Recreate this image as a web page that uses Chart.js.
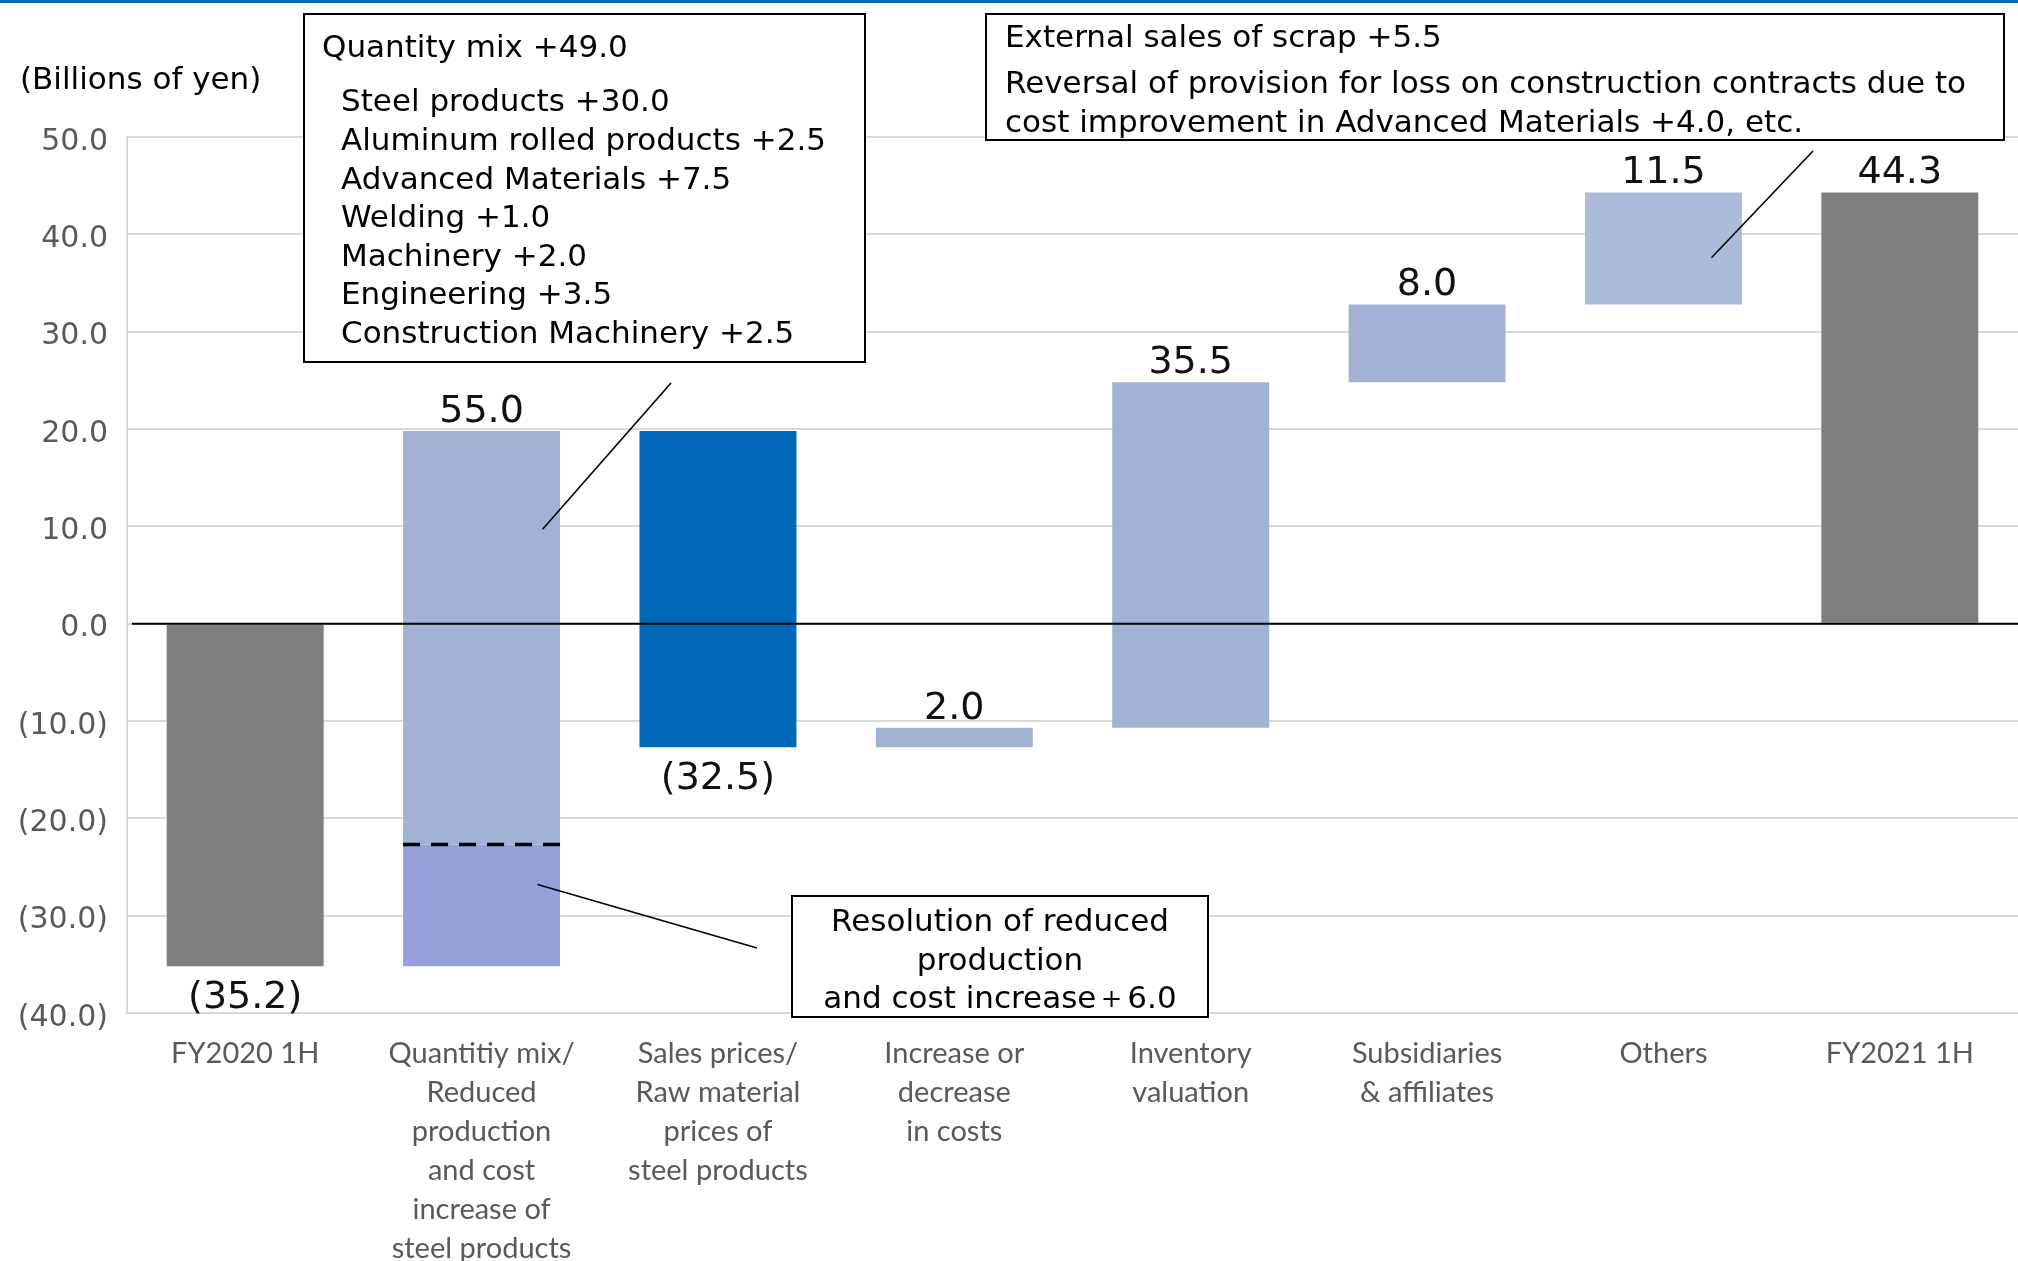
<!DOCTYPE html>
<html>
<head>
<meta charset="utf-8">
<script src="https://cdn.jsdelivr.net/npm/chart.js@4.4.1/dist/chart.umd.min.js"></script>
<style>
  html, body { margin: 0; padding: 0; background: #fff; overflow: hidden; }
  #profit-chart { position: absolute; left: 0; top: 0; }
  #topline { position: absolute; left: 0; top: 0; width: 2018px; height: 3px; background: #0068B7; }
</style>
</head>
<body>
<canvas id="profit-chart" width="2018" height="1261"></canvas>
<div id="topline"></div>
<script>
const categories = [
    ['FY2020 1H'],
    ['Quantitiy mix/', 'Reduced', 'production', 'and cost', 'increase of', 'steel products'],
    ['Sales prices/', 'Raw material', 'prices of', 'steel products'],
    ['Increase or', 'decrease', 'in costs'],
    ['Inventory', 'valuation'],
    ['Subsidiaries', '& affiliates'],
    ['Others'],
    ['FY2021 1H']
];
// waterfall bars: start and end of each floating bar
const barStart = [0, -22.7, 19.8, -12.7, -10.7, 24.8, 32.8, 0];
const barEnd = [-35.2, 19.8, -12.7, -10.7, 24.8, 32.8, 44.3, 44.3];
// lower part of the quantity bar (resolution of reduced production)
const resolutionStart = [null, -35.2, null, null, null, null, null, null];
const resolutionEnd = [null, -22.7, null, null, null, null, null, null];
const changes = [-35.2, 55.0, -32.5, 2.0, 35.5, 8.0, 11.5, 44.3];
const barColors = ['#7F7F7F', '#A2B2D4', '#0068B7', '#A2B2D4', '#A2B2D4', '#A2B1D4', '#ADBBDB', '#7F7F7F'];
const yTicks = { min: -40, max: 50, step: 10 };

const boxQuantity = ['Quantity mix +49.0', 'Steel products +30.0', 'Aluminum rolled products +2.5',
    'Advanced Materials +7.5', 'Welding +1.0', 'Machinery +2.0', 'Engineering +3.5', 'Construction Machinery +2.5'];
const boxOthers = ['External sales of scrap +5.5',
    'Reversal of provision for loss on construction contracts due to',
    'cost improvement in Advanced Materials +4.0, etc.'];
const boxResolution = ['Resolution of reduced', 'production', 'and cost increase\uFF0B6.0'];

function fmt(v) {
    return v < 0 ? '(' + Math.abs(v).toFixed(1) + ')' : v.toFixed(1);
}

const textFont = '31px "DejaVu Sans"';

const annotations = {
    id: 'annotations',
    afterDatasetsDraw(chart) {
        const ctx = chart.ctx;
        const x = chart.scales.x, y = chart.scales.y;
        const area = chart.chartArea;
        const meta = chart.getDatasetMeta(0);
        ctx.save();

        // zero line over the bars
        const y0 = y.getPixelForValue(0);
        ctx.strokeStyle = '#000';
        ctx.lineWidth = 2;
        ctx.beginPath();
        ctx.moveTo(area.left + 5, y0);
        ctx.lineTo(area.right, y0);
        ctx.stroke();

        // dashed split on quantity bar
        const qb = meta.data[1];
        const yd = y.getPixelForValue(resolutionEnd[1]);
        ctx.setLineDash([17, 11]);
        ctx.lineWidth = 3.5;
        ctx.beginPath();
        ctx.moveTo(qb.x - qb.width / 2, yd);
        ctx.lineTo(qb.x + qb.width / 2, yd);
        ctx.stroke();
        ctx.setLineDash([]);

        // value labels
        ctx.fillStyle = '#111';
        ctx.font = '38px "DejaVu Sans"';
        ctx.textAlign = 'center';
        ctx.textBaseline = 'alphabetic';
        meta.data.forEach((bar, i) => {
            let top = Math.min(bar.y, bar.base), bottom = Math.max(bar.y, bar.base);
            if (resolutionStart[i] !== null) {
                bottom = Math.max(bottom, y.getPixelForValue(resolutionStart[i]));
            }
            if (changes[i] >= 0) {
                ctx.fillText(fmt(changes[i]), bar.x, top - 9);
            } else {
                ctx.fillText(fmt(changes[i]), bar.x, bottom + 42);
            }
        });

        // leader lines
        ctx.strokeStyle = '#000';
        ctx.lineWidth = 1.6;
        const lines = [
            [x.getPixelForValue(1) + 61, y.getPixelForValue(9.7), 671, 383],
            [x.getPixelForValue(1) + 56, y.getPixelForValue(-26.8), 757, 948],
            [x.getPixelForValue(6) + 48, y.getPixelForValue(37.6), 1813, 151]
        ];
        lines.forEach(l => {
            ctx.beginPath();
            ctx.moveTo(l[0], l[1]);
            ctx.lineTo(l[2], l[3]);
            ctx.stroke();
        });

        // boxes
        function box(x1, y1, x2, y2) {
            ctx.fillStyle = '#fff';
            ctx.fillRect(x1, y1, x2 - x1, y2 - y1);
            ctx.strokeStyle = '#000';
            ctx.lineWidth = 2;
            ctx.strokeRect(x1, y1, x2 - x1, y2 - y1);
        }
        ctx.font = textFont;
        ctx.textBaseline = 'middle';

        box(304, 14, 865, 362);
        ctx.fillStyle = '#000';
        ctx.textAlign = 'left';
        const qy = [49, 103, 142, 181, 219, 258, 296, 335];
        boxQuantity.forEach((t, i) => ctx.fillText(t, i === 0 ? 322 : 341, qy[i]));

        box(986, 14, 2004, 140);
        ctx.fillStyle = '#000';
        const oy = [39, 85, 124];
        boxOthers.forEach((t, i) => ctx.fillText(t, 1005, oy[i]));

        box(792, 896, 1208, 1017);
        ctx.fillStyle = '#000';
        ctx.textAlign = 'center';
        const ry = [923, 962, 1000];
        boxResolution.forEach((t, i) => ctx.fillText(t, 1000, ry[i]));

        // unit label
        ctx.textAlign = 'left';
        ctx.fillText('(Billions of yen)', 20, 81);

        ctx.restore();
    }
};

function initChart() {
    const ctx = document.getElementById('profit-chart').getContext('2d');
    new Chart(ctx, {
        type: 'bar',
        data: {
            labels: categories,
            datasets: [{
                data: barStart.map((s, i) => [s, barEnd[i]]),
                backgroundColor: barColors,
                categoryPercentage: 1,
                barPercentage: 0.664
            }, {
                data: resolutionStart.map((s, i) => s === null ? null : [s, resolutionEnd[i]]),
                backgroundColor: '#96A0DA',
                categoryPercentage: 1,
                barPercentage: 0.664
            }]
        },
        options: {
            responsive: false,
            animation: false,
            devicePixelRatio: 1,
            layout: { padding: { top: 137, left: 0, right: 0, bottom: 0 } },
            plugins: { legend: { display: false }, tooltip: { enabled: false } },
            scales: {
                x: {
                    stacked: true,
                    grid: { display: false, drawTicks: false },
                    border: { display: false },
                    ticks: {
                        color: '#595959',
                        font: { family: 'Lato', size: 29, lineHeight: 1.345 },
                        padding: 21,
                        maxRotation: 0,
                        autoSkip: false
                    },
                    afterFit(scale) { scale.height = 248; }
                },
                y: {
                    min: yTicks.min,
                    max: yTicks.max,
                    grid: {
                        color: '#D9D9D9',
                        lineWidth: 2,
                        drawTicks: false
                    },
                    border: { display: true, color: '#D9D9D9', width: 2 },
                    ticks: {
                        stepSize: yTicks.step,
                        color: '#595959',
                        font: { family: 'DejaVu Sans', size: 30 },
                        padding: 19,
                        labelOffset: 5,
                        callback: v => fmt(v)
                    },
                    afterFit(scale) { scale.width = 127; }
                }
            }
        },
        plugins: [annotations]
    });
}

document.addEventListener('DOMContentLoaded', () => {
    initChart();
});
</script>
</body>
</html>
